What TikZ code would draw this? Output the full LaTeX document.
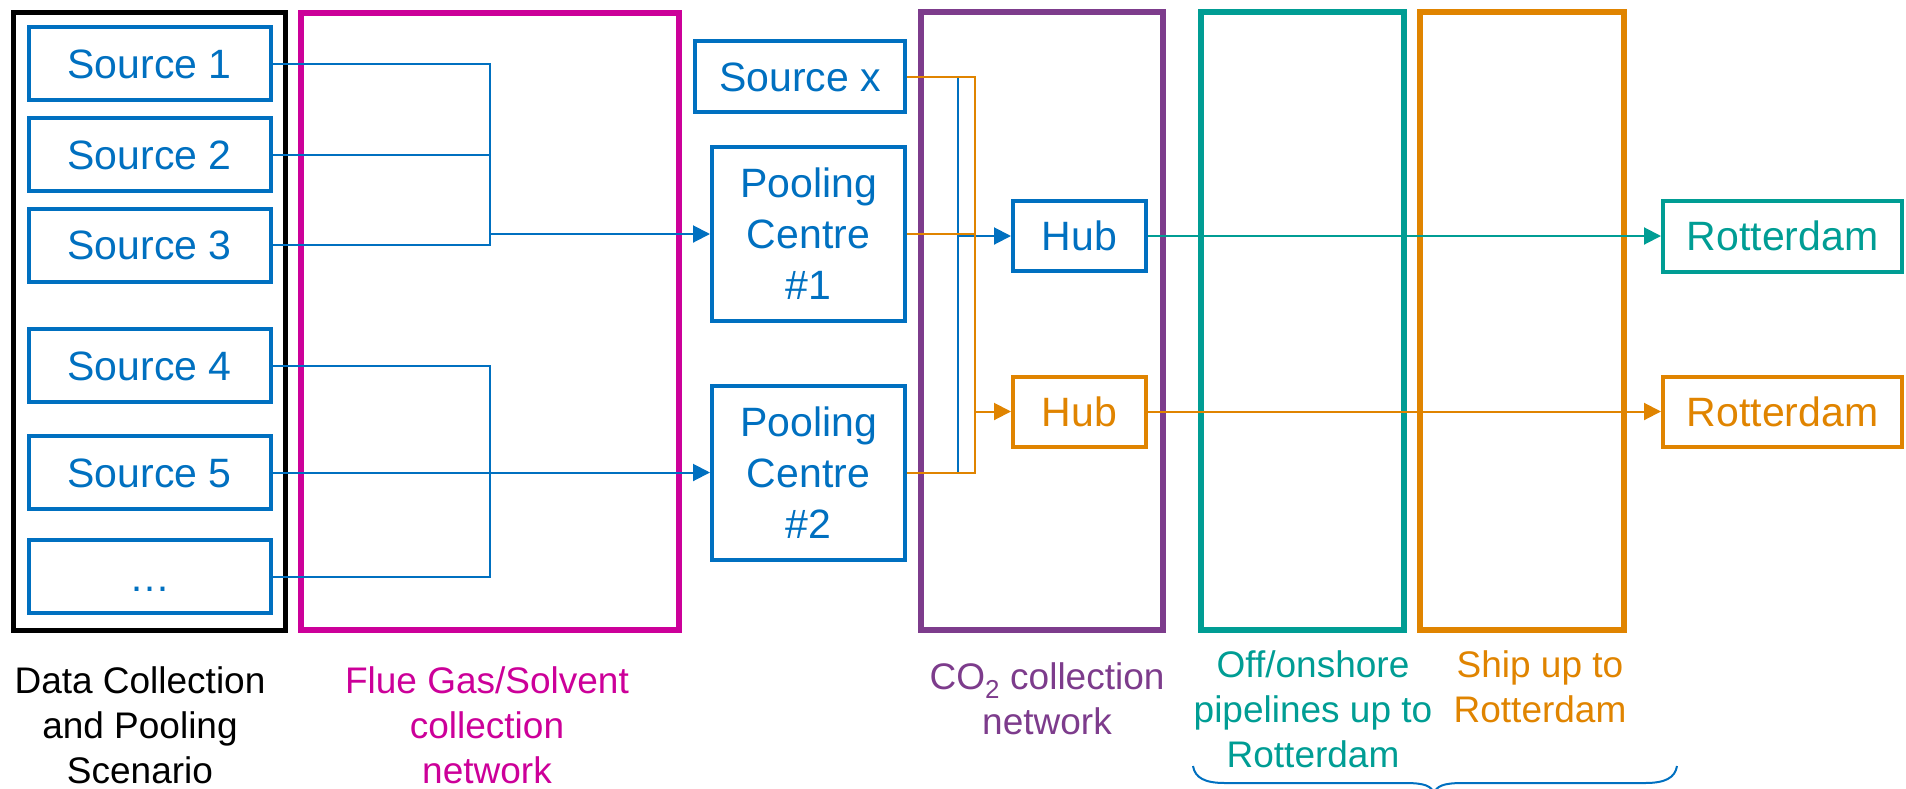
\documentclass[tikz,border=0pt]{standalone}
\usepackage{fontspec}
\setmainfont{Liberation Sans}
\usetikzlibrary{arrows.meta}
\definecolor{cblue}{RGB}{0,112,192}
\definecolor{corange}{RGB}{224,132,0}
\definecolor{cteal}{RGB}{0,157,148}
\definecolor{cpurple}{RGB}{125,60,140}
\definecolor{cmagenta}{RGB}{204,0,153}
\begin{document}
\begin{tikzpicture}[x=1pt,y=-1pt,
  frame/.style={line width=5.5pt},
  boxtxt/.style={inner sep=0pt, line width=4pt, font=\fontsize{41}{51}\selectfont},
  onebox/.style={boxtxt, text height=29.5pt, text depth=0pt},
  srcbox/.style={onebox, draw=cblue, text=cblue, minimum width=242pt, minimum height=73pt},
  poolbox/.style={boxtxt, align=center, draw=cblue, text=cblue, minimum width=193pt, minimum height=174pt},
  conn/.style={line width=2pt},
  arr/.style={-{Triangle[length=17pt,width=17pt]}},
  lbl/.style={font=\fontsize{37}{45}\selectfont, align=center, inner sep=0pt, anchor=north}
]
\useasboundingbox (0,0) rectangle (1906,788);

% group frames
\draw[frame, line width=5pt, black] (13,12) rectangle (285,630);
\draw[frame, cmagenta] (301,13) rectangle (679,630);
\draw[frame, cpurple] (921,12) rectangle (1163,630);
\draw[frame, cteal] (1201,12) rectangle (1404,630);
\draw[frame, corange] (1420,12) rectangle (1624,630);

% sources
\node[srcbox] (s1) at (149.5,63.5) {Source 1};
\node[srcbox] (s2) at (149.5,154.5) {Source 2};
\node[srcbox] (s3) at (149.5,245) {Source 3};
\node[srcbox] (s4) at (149.5,365.5) {Source 4};
\node[srcbox] (s5) at (149.5,472.5) {Source 5};
\node[srcbox] (s6) at (149.5,576.5) {\dots};

% source x, pooling centres
\node[onebox, draw=cblue, text=cblue, minimum width=210pt, minimum height=71pt] (sx) at (800,76.5) {Source x};
\node[poolbox] (p1) at (808.5,234) {Pooling\\Centre\\\#1};
\node[poolbox] (p2) at (808.5,472.5) {Pooling\\Centre\\\#2};

% hubs
\node[onebox, draw=cblue, text=cblue, minimum width=133pt, minimum height=70pt] (hb) at (1079.5,236) {Hub};
\node[onebox, draw=corange, text=corange, minimum width=133pt, minimum height=70pt] (ho) at (1079.5,411.5) {Hub};

% Rotterdam
\node[onebox, draw=cteal, text=cteal, minimum width=239pt, minimum height=71pt] (rt) at (1782.5,236) {Rotterdam};
\node[onebox, draw=corange, text=corange, minimum width=239pt, minimum height=70pt] (ro) at (1782.5,411.5) {Rotterdam};

% merge coordinates
\coordinate (m) at (490,0);
\coordinate (bx) at (958,0);
\coordinate (ox) at (975,0);

% flue gas network
\draw[conn, cblue] (s1.east) -| (m |- s3.east) -- (s3.east);
\draw[conn, cblue] (s2.east) -- (s2.east -| m);
\draw[conn, cblue, arr] (m |- p1.west) -- (p1.west);
\draw[conn, cblue] (s4.east) -| (m |- s6.east) -- (s6.east);
\draw[conn, cblue, arr] (s5.east) -- (p2.west);

% CO2 network
\draw[conn, cblue] (sx.east) -| (bx |- p2.east) -- (p2.east);
\draw[conn, cblue] (p1.east) -- (p1.east -| bx);
\draw[conn, cblue, arr] (bx |- hb.west) -- (hb.west);
\draw[conn, corange] (sx.east) -| (ox |- p2.east) -- (p2.east);
\draw[conn, corange] (p1.east) -- (p1.east -| ox);
\draw[conn, corange, arr] (ox |- ho.west) -- (ho.west);

% to Rotterdam
\draw[conn, cteal, arr] (hb.east) -- (rt.west);
\draw[conn, corange, arr] (ho.east) -- (ro.west);

% labels
\node[lbl, text=black] (l1) at (140,666) {Data Collection\\and Pooling\\Scenario};
\node[lbl, text=cmagenta] (l2) at (487,666) {Flue Gas/Solvent\\collection\\network};
\node[lbl, text=cpurple] (l3) at (1047,662) {CO\textsubscript{2} collection\\network};
\node[lbl, text=cteal] (l4) at (1313,650) {Off/onshore\\pipelines up to\\Rotterdam};
\node[lbl, text=corange] (l5) at (1540,650) {Ship up to\\Rotterdam};

% brace
\draw[cblue, line width=2pt] (1193,766) .. controls (1195,778) and (1205,783) .. (1225,783) -- (1405,783) .. controls (1425,783) and (1432,786) .. (1434,794);
\draw[cblue, line width=2pt] (1677,766) .. controls (1675,778) and (1665,783) .. (1645,783) -- (1463,783) .. controls (1443,783) and (1436,786) .. (1434,794);
\end{tikzpicture}
\end{document}
